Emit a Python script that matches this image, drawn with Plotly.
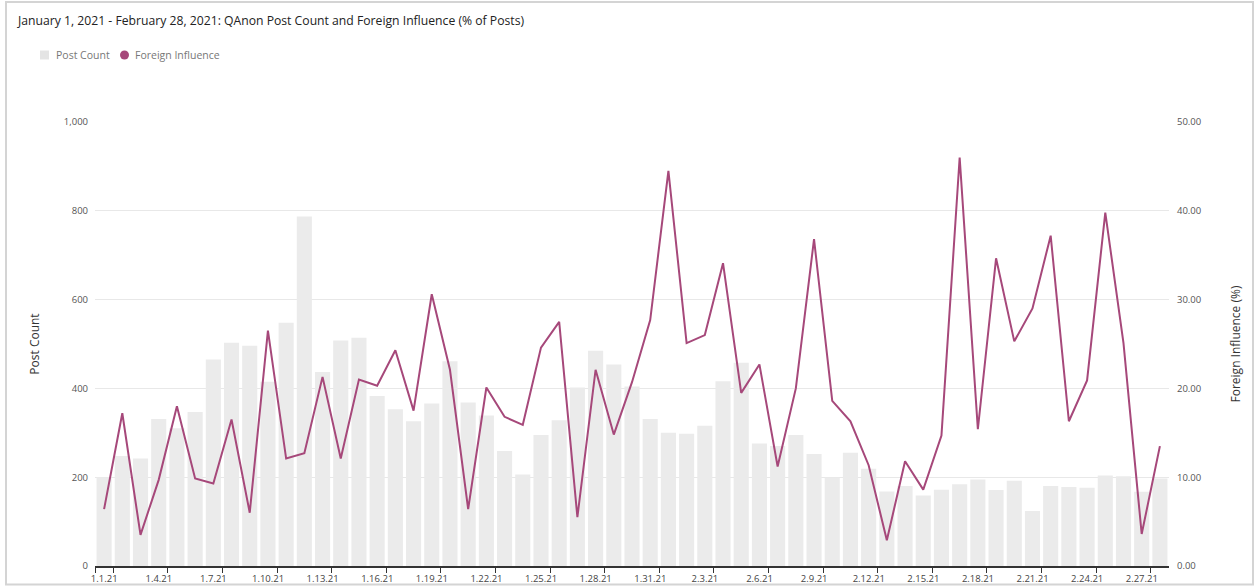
import plotly.graph_objects as go
import datetime as dt

# ---- data ----
start = dt.date(2021, 1, 1)
days = [start + dt.timedelta(days=i) for i in range(59)]
date_labels = [f"{d.month}.{d.day}.21" for d in days]

post_count = [200, 248, 242, 331, 310, 347, 465, 503, 496, 415,
              548, 787, 437, 508, 514, 383, 353, 326, 366, 461,
              368, 339, 259, 206, 295, 328, 402, 485, 454, 404,
              331, 300, 298, 316, 416, 458, 276, 270, 295, 252,
              199, 255, 219, 168, 180, 159, 172, 184, 195, 171,
              192, 124, 180, 178, 176, 204, 202, 167, 197]

foreign_influence = [6.4, 17.2, 3.5, 9.7, 18.0, 9.85, 9.3, 16.5, 6.0, 26.5,
                     12.1, 12.7, 21.3, 12.1, 21.0, 20.3, 24.3, 17.5, 30.6, 22.1,
                     6.4, 20.1, 16.8, 15.9, 24.6, 27.5, 5.5, 22.1, 14.8, 20.7,
                     27.7, 44.5, 25.1, 26.0, 34.1, 19.5, 22.7, 11.2, 20.0, 36.8,
                     18.6, 16.3, 11.35, 2.9, 11.8, 8.6, 14.7, 46.0, 15.4, 34.65,
                     25.3, 29.0, 37.2, 16.3, 20.9, 39.8, 25.1, 3.6, 13.5]

left_ticks = [0, 200, 400, 600, 800, 1000]
right_ticks = [0, 10, 20, 30, 40, 50]
legend_names = ["Post Count", "Foreign Influence"]

x_idx = list(range(len(days)))
label_idx = list(range(0, len(days), 3))
tick_vals = [-0.5] + [i + 0.5 for i in label_idx]
tick_text = [""] + [date_labels[i] for i in label_idx]

BAR_COLOR = "#ebebeb"
LINE_COLOR = "#a6487a"
FONT = "Open Sans"

fig = go.Figure()
fig.add_trace(go.Bar(x=x_idx, y=post_count, name=legend_names[0], showlegend=False,
                     marker=dict(color=BAR_COLOR, line=dict(width=0)),
                     customdata=date_labels, hovertemplate="%{customdata}: %{y}<extra></extra>"))
fig.add_trace(go.Scatter(x=x_idx, y=foreign_influence, name=legend_names[1],
                         mode="lines", yaxis="y2", showlegend=False,
                         line=dict(color=LINE_COLOR, width=2),
                         customdata=date_labels, hovertemplate="%{customdata}: %{y:.2f}%<extra></extra>"))

W, H = 1255, 586
L, R, T, B = 95, 86, 122, 20
pw, ph = W - L - R, H - T - B

def px(x):
    return (x - L) / pw

def py(y):
    return (H - B - y) / ph

legend_font = dict(family=FONT, size=10.5, color="#777")
annotations = [
    dict(text=legend_names[0], x=px(54), y=py(55), xref="paper", yref="paper",
         xanchor="left", yanchor="middle", showarrow=False, font=legend_font),
    dict(text=legend_names[1], x=px(133), y=py(55), xref="paper", yref="paper",
         xanchor="left", yanchor="middle", showarrow=False, font=legend_font),
]

shapes = [
    dict(type="rect", xref="paper", yref="paper",
         x0=px(6), x1=px(1253), y0=py(584.5), y1=py(2),
         line=dict(color="#d4d4d4", width=2), fillcolor="rgba(0,0,0,0)", layer="below"),
    # legend swatches
    dict(type="rect", xref="paper", yref="paper",
         x0=px(40), x1=px(49), y0=py(59.5), y1=py(50.5),
         line=dict(width=0), fillcolor="#e4e4e4"),
    dict(type="circle", xref="paper", yref="paper",
         x0=px(120), x1=px(129), y0=py(59.5), y1=py(50.5),
         line=dict(width=0), fillcolor=LINE_COLOR),
]

fig.update_layout(
    width=W, height=H,
    margin=dict(l=L, r=R, t=T, b=B, autoexpand=False),
    paper_bgcolor="white", plot_bgcolor="white",
    font=dict(family=FONT, color="#555", size=10),
    bargap=0.17,
    showlegend=False,
    title=dict(text="January 1, 2021 - February 28, 2021: QAnon Post Count and Foreign Influence (% of Posts)",
               x=18 / W, xanchor="left", y=1 - 21 / H, yanchor="middle",
               font=dict(family=FONT, size=12.2, color="#222")),
    xaxis=dict(range=[-0.5, 58.5], tickmode="array", tickvals=tick_vals, ticktext=tick_text,
               ticks="outside", ticklen=5, tickcolor="#333", tickwidth=1,
               showline=True, linecolor="#333", linewidth=1.5,
               showgrid=False, zeroline=False, ticklabelshift=-9, ticklabelstandoff=-2,
               tickfont=dict(size=9.5, color="#444"), automargin=False),
    yaxis=dict(range=[0, 1000], tickmode="array", tickvals=left_ticks,
               ticktext=[f"{v:,}" for v in left_ticks],
               showgrid=True, gridcolor="#e8e8e8", gridwidth=1, zeroline=False,
               showline=False, ticks="", ticklabelstandoff=6,
               tickfont=dict(size=9.5, color="#555"),
               title=dict(text="Post Count", standoff=21, font=dict(size=12, color="#333")),
               automargin=False),
    yaxis2=dict(range=[0, 50], overlaying="y", side="right", tickmode="array",
                tickvals=right_ticks, ticktext=[f"{v:.2f}" for v in right_ticks],
                showgrid=False, zeroline=False, showline=False, ticks="", ticklabelstandoff=7,
                tickfont=dict(size=9.5, color="#555"),
                title=dict(text="Foreign Influence (%)", standoff=31, font=dict(size=12, color="#333")),
                automargin=False),
    annotations=annotations,
    shapes=shapes,
    hovermode="x",
)

fig.write_html("out.html", config={"displayModeBar": False},
               post_script="document.body.style.margin='0';document.body.style.overflow='hidden';")
